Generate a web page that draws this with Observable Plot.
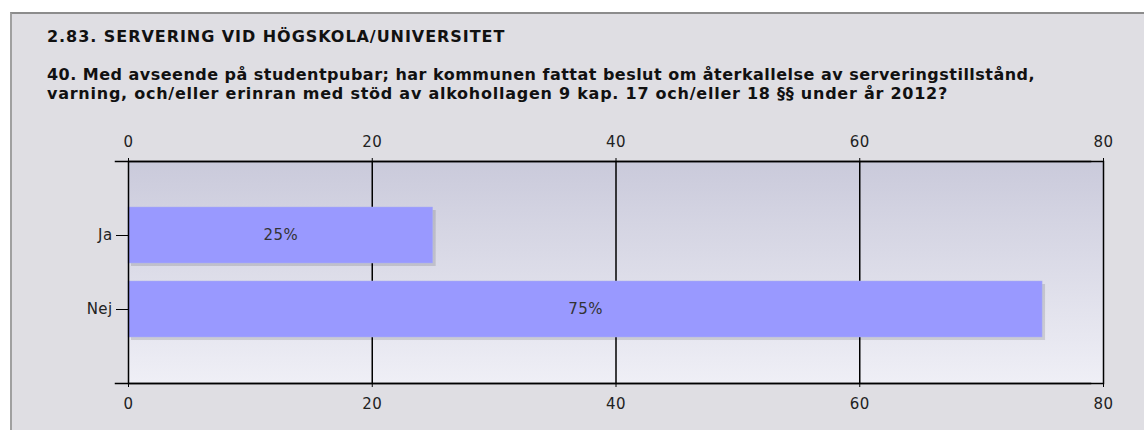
<!DOCTYPE html>
<html>
<head>
<meta charset="utf-8">
<script src="https://cdn.jsdelivr.net/npm/d3@7"></script>
<script src="https://cdn.jsdelivr.net/npm/@observablehq/plot@0.6"></script>
<style>
  html, body { margin: 0; padding: 0; background: #ffffff; }
  #wrap {
    position: absolute; left: 10px; top: 12px; width: 1134px; height: 418px;
    background: #dfdee3; border-top: 2px solid #8c8c8c; border-left: 2px solid #a0a0a0;
    box-sizing: border-box; overflow: hidden;
  }
  .t { position: absolute; left: 35px; font-family: "DejaVu Sans", Verdana, sans-serif; font-weight: bold; font-size: 16px; color: #111; white-space: nowrap; }
  #chart { position: absolute; left: -12px; top: 106px; }
</style>
</head>
<body>
<div id="wrap">
  <div class="t" id="title" style="top:13px;letter-spacing:0.95px">2.83. SERVERING VID HÖGSKOLA/UNIVERSITET</div>
  <div class="t" id="q1" style="top:51px;line-height:19px"><span style="letter-spacing:0.48px">40. Med avseende på studentpubar; har kommunen fattat beslut om återkallelse av serveringstillstånd,</span><br><span style="letter-spacing:0.75px">varning, och/eller erinran med stöd av alkohollagen 9 kap. 17 och/eller 18 §§ under år 2012?</span></div>
  <div id="chart"></div>
</div>
<script>
const categories = ["Ja", "Nej"];
const values = [25, 75];
const labels = ["25%", "75%"];
const xTicks = [0, 20, 40, 60, 80];

const data = categories.map((c, i) => ({cat: c, value: values[i], label: labels[i]}));

const plot = Plot.plot({
  width: 1144,
  height: 300,
  marginTop: 41,
  marginBottom: 37,
  marginLeft: 128,
  marginRight: 41,
  style: {background: "transparent", fontFamily: "DejaVu Sans, Verdana, sans-serif", fontSize: "15px", color: "#222", letterSpacing: "0.4px"},
  x: {domain: [0, 80], ticks: xTicks},
  y: {domain: categories, paddingInner: 0.25, paddingOuter: 0.61},
  marks: [
    Plot.frame({fill: "url(#bggrad)", stroke: null}),
    Plot.ruleX(xTicks.slice(1, -1), {stroke: "#000", strokeWidth: 1.5}),
    Plot.barX(data, {x: "value", y: "cat", fill: "#000", fillOpacity: 0.12, dx: 3, dy: 3}),
    Plot.barX(data, {x: "value", y: "cat", fill: "#9999ff", stroke: "#aab0f0", strokeWidth: 0.5}),
    Plot.text(data, {x: d => d.value / 2, y: "cat", text: "label", fill: "#333", fontSize: 15}),
    Plot.frame({anchor: "top", stroke: "#000", strokeWidth: 1.5, dx: -13}),
    Plot.frame({anchor: "bottom", stroke: "#000", strokeWidth: 1.5, dx: -13}),
    Plot.frame({stroke: "#000", strokeWidth: 1.5}),
    Plot.axisX({anchor: "top", ticks: xTicks, tickSize: 4, tickPadding: 11, label: null, tickFormat: d => String(d), stroke: "#000", fontSize: 15}),
    Plot.axisX({anchor: "bottom", ticks: xTicks, tickSize: 4, tickPadding: 11, label: null, tickFormat: d => String(d), stroke: "#000", fontSize: 15}),
    Plot.axisY({anchor: "left", tickSize: 12, tickPadding: 4, label: null, stroke: "#000", fontSize: 15})
  ]
});

const ns = "http://www.w3.org/2000/svg";
const defs = document.createElementNS(ns, "defs");
const grad = document.createElementNS(ns, "linearGradient");
grad.setAttribute("id", "bggrad");
grad.setAttribute("x1", "0"); grad.setAttribute("y1", "0");
grad.setAttribute("x2", "0"); grad.setAttribute("y2", "1");
[["0", "#cacadb"], ["1", "#efeff6"]].forEach(([o, c]) => {
  const s = document.createElementNS(ns, "stop");
  s.setAttribute("offset", o); s.setAttribute("stop-color", c);
  grad.appendChild(s);
});
defs.appendChild(grad);
plot.insertBefore(defs, plot.firstChild);

document.getElementById("chart").appendChild(plot);
</script>
</body>
</html>
